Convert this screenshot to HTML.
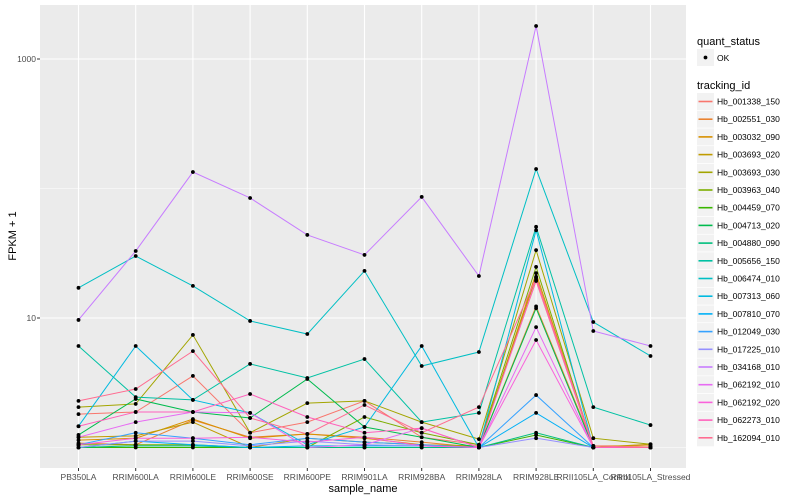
<!DOCTYPE html>
<html><head><meta charset="utf-8"><style>
body{margin:0;background:#fff;}
svg{display:block;font-family:"Liberation Sans",sans-serif;}
</style></head><body>
<svg id="chart" width="800" height="500" viewBox="0 0 800 500"></svg>
<script>
const categories=["PB350LA","RRIM600LA","RRIM600LE","RRIM600SE","RRIM600PE","RRIM901LA","RRIM928BA","RRIM928LA","RRIM928LE","RRII105LA_Control","RRII105LA_Stressed"];
const trackingIds=["Hb_001338_150","Hb_002551_030","Hb_003032_090","Hb_003693_020","Hb_003693_030","Hb_003963_040","Hb_004459_070","Hb_004713_020","Hb_004880_090","Hb_005656_150","Hb_006474_010","Hb_007313_060","Hb_007810_070","Hb_012049_030","Hb_017225_010","Hb_034168_010","Hb_062192_010","Hb_062192_020","Hb_062273_010","Hb_162094_010"];
const s00=[1.81,1.88,3.57,1.3,1.57,2.29,1.2,1.05,19.3,1.0,1.0];
const s01=[1.08,1.05,1.63,1.2,1.27,1.2,1.1,1.0,12.3,1.03,1.03];
const s02=[1.14,1.18,1.66,1.18,1.27,1.18,1.05,1.0,22.2,1.0,1.0];
const s03=[1.2,1.23,1.57,1.0,1.18,1.1,1.05,1.03,20.8,1.0,1.06];
const s04=[2.05,2.17,7.4,1.3,2.2,2.29,1.57,1.16,33.4,1.18,1.06];
const s05=[1.05,1.05,1.05,1.0,1.0,1.72,1.3,1.05,24.8,1.0,1.0];
const s06=[1.0,1.0,1.0,1.0,1.0,1.0,1.0,1.0,1.25,1.0,1.0];
const s07=[1.25,2.37,1.88,1.69,3.38,1.44,1.2,1.0,11.9,1.0,1.0];
const s08=[1.0,1.03,1.03,1.0,1.0,1.0,1.0,1.0,1.3,1.0,1.0];
const s09=[6.08,2.45,2.33,4.42,3.44,4.82,1.57,1.85,50.6,2.05,1.49];
const s10=[17.1,30.1,17.7,9.49,7.52,23.1,4.26,5.46,141.5,9.31,5.09];
const s11=[1.46,6.08,2.33,1.85,1.05,1.44,6.08,1.0,47.6,1.0,1.0];
const s12=[1.0,1.12,1.05,1.0,1.03,1.03,1.03,1.0,1.85,1.0,1.0];
const s13=[1.05,1.3,1.18,1.05,1.18,1.1,1.05,1.0,2.54,1.0,1.0];
const s14=[1.0,1.12,1.12,1.03,1.12,1.05,1.03,1.0,1.18,1.0,1.0];
const s15=[9.66,32.9,134,84.5,43.8,30.7,86.1,21.1,1798,7.94,6.08];
const s16=[1.2,1.57,1.88,1.85,1.0,1.05,1.41,1.0,8.5,1.0,1.0];
const s17=[1.05,1.18,1.18,1.2,1.1,1.2,1.03,1.0,6.76,1.0,1.0];
const s18=[1.46,1.88,1.88,2.59,1.72,1.3,1.41,1.0,19.7,1.0,1.0];
const s19=[2.29,2.83,5.55,1.69,1.27,2.13,1.3,2.05,20.4,1.03,1.0];
const seriesValues=[s00,s01,s02,s03,s04,s05,s06,s07,s08,s09,s10,s11,s12,s13,s14,s15,s16,s17,s18,s19];
const colors=["#F8766D","#EA8331","#D89000","#C09B00","#A3A500","#7CAE00","#39B600","#00BB4E","#00BF7D","#00C1A3","#00BFC4","#00BAE0","#00B0F6","#35A2FF","#9590FF","#C77CFF","#E76BF3","#FA62DB","#FF62BC","#FF6C91"];
const yTicks=[10,1000];
const yMinor=[1,100];

const NS="http://www.w3.org/2000/svg";
const svg=document.getElementById('chart');
const P={l:40,r:686,t:5,b:468};
function xs(i){return 78.5+i*57.2;}
function ys(v){return 447.5-Math.log10(v)*129.5;}
function mk(tag,attrs,parent){const e=document.createElementNS(NS,tag);for(const k in attrs)e.setAttribute(k,attrs[k]);(parent||svg).appendChild(e);return e;}

const panel=mk('rect',{x:P.l,y:P.t,width:P.r-P.l,height:P.b-P.t,fill:'#EBEBEB'});


yMinor.forEach(v=>{const g=mk('line',{x1:P.l,x2:P.r,y1:ys(v),y2:ys(v),stroke:'#fff','stroke-width':0.6});

});
yTicks.forEach(v=>{const g=mk('line',{x1:P.l,x2:P.r,y1:ys(v),y2:ys(v),stroke:'#fff','stroke-width':1.1});


mk('line',{x1:P.l-3,x2:P.l,y1:ys(v),y2:ys(v),stroke:'#333','stroke-width':1});
const t=mk('text',{x:P.l-4,y:ys(v)+3,'text-anchor':'end','font-size':8.5,fill:'#4D4D4D'});t.textContent=v;

});
categories.forEach((c,i)=>{const g=mk('line',{x1:xs(i),x2:xs(i),y1:P.t,y2:P.b,stroke:'#fff','stroke-width':1.1});


mk('line',{x1:xs(i),x2:xs(i),y1:P.b,y2:P.b+3,stroke:'#333','stroke-width':1});
const t=mk('text',{x:xs(i),y:480,'text-anchor':'middle','font-size':8.5,fill:'#4D4D4D'});t.textContent=c;

});

seriesValues.forEach((vals,k)=>{
 const p=mk('polyline',{points:vals.map((v,i)=>xs(i)+','+ys(v)).join(' '),fill:'none',stroke:colors[k],'stroke-width':1});
 
 
});
seriesValues.forEach((vals,k)=>{vals.forEach((v,i)=>{
 const c=mk('circle',{cx:xs(i),cy:ys(v),r:1.9,fill:'#000'});
 
 
});});

let t=mk('text',{x:363,y:492,'text-anchor':'middle','font-size':11,fill:'#000'});t.textContent='sample_name';


t=mk('text',{x:16,y:236,'text-anchor':'middle','font-size':11,fill:'#000',transform:'rotate(-90 16 236)'});t.textContent='FPKM + 1';



t=mk('text',{x:697,y:45,'font-size':11,fill:'#000'});t.textContent='quant_status';


mk('rect',{x:697,y:49,width:17,height:17,fill:'#F2F2F2'});
mk('circle',{cx:705.5,cy:57.5,r:1.9,fill:'#000'});
t=mk('text',{x:717,y:61,'font-size':8.5,fill:'#000'});t.textContent='OK';


t=mk('text',{x:697,y:89,'font-size':11,fill:'#000'});t.textContent='tracking_id';


trackingIds.forEach((id,k)=>{
 const cy=101.5+k*17.7;
 mk('rect',{x:697,y:cy-8.5,width:17,height:17,fill:'#F2F2F2'});
 mk('line',{x1:698.5,x2:712.5,y1:cy,y2:cy,stroke:colors[k],'stroke-width':1.6});
 const l=mk('text',{x:717,y:cy+3,'font-size':8.5,fill:'#000'});l.textContent=id;
 
 
});
</script>
</body></html>
